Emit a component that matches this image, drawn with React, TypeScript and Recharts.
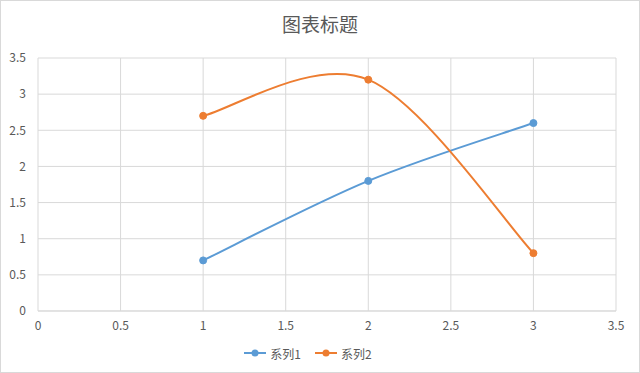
import { LineChart, Line, XAxis, YAxis, CartesianGrid, Legend } from 'recharts';

const xValues = [1, 2, 3];
const series1 = [0.7, 1.8, 2.6];
const series2 = [2.7, 3.2, 0.8];
const axisTicks = [0, 0.5, 1, 1.5, 2, 2.5, 3, 3.5];
const seriesNames = ['系列1', '系列2'];
const title = '图表标题';

const COLORS = ['#5b9bd5', '#ed7d31'];
const FONT = '"Noto Sans CJK SC", "Noto Sans", sans-serif';

const data1 = xValues.map((x, i) => ({ x, y: series1[i] }));
const data2 = xValues.map((x, i) => ({ x, y: series2[i] }));

// Excel-style smoothing: Catmull-Rom turned into cubic beziers
function excelCurve(context: any) {
  let pts: number[][] = [];
  return {
    areaStart() {},
    areaEnd() {},
    lineStart() {
      pts = [];
    },
    point(x: number, y: number) {
      pts.push([+x, +y]);
    },
    lineEnd() {
      if (!pts.length) return;
      context.moveTo(pts[0][0], pts[0][1]);
      for (let i = 0; i < pts.length - 1; i++) {
        const p0 = pts[i - 1] || pts[i];
        const p1 = pts[i];
        const p2 = pts[i + 1];
        const p3 = pts[i + 2] || p2;
        context.bezierCurveTo(
          p1[0] + (p2[0] - p0[0]) / 6,
          p1[1] + (p2[1] - p0[1]) / 6,
          p2[0] - (p3[0] - p1[0]) / 6,
          p2[1] - (p3[1] - p1[1]) / 6,
          p2[0],
          p2[1]
        );
      }
    },
  };
}

function LegendContent({ payload }: any) {
  return (
    <div
      style={{
        height: 24,
        display: 'flex',
        justifyContent: 'center',
        alignItems: 'center',
        gap: 14,
        fontFamily: FONT,
        fontSize: 12,
        color: '#595959',
      }}
    >
      {(payload || []).map((p: any) => (
        <div key={p.value} style={{ display: 'flex', alignItems: 'center' }}>
          <svg width={22} height={10} style={{ marginRight: 4 }}>
            <line x1={0} y1={5} x2={22} y2={5} stroke={p.color} strokeWidth={2} />
            <circle cx={11} cy={5} r={3.5} fill={p.color} />
          </svg>
          <span>{p.value}</span>
        </div>
      ))}
    </div>
  );
}

const tickStyle = { fill: '#595959', fontSize: 12, fontFamily: FONT };

export default function App() {
  return (
    <div style={{ position: 'absolute', left: 0, top: 0, width: 640, height: 373, background: '#fff' }}>
      <div
        style={{
          position: 'absolute',
          top: 10,
          left: 0,
          width: 640,
          textAlign: 'center',
          fontFamily: FONT,
          fontSize: 19,
          color: '#595959',
        }}
      >
        {title}
      </div>
      <LineChart
        width={640}
        height={373}
        margin={{ top: 58, right: 24, left: 0, bottom: 8 }}
      >
        <CartesianGrid stroke="#d9d9d9" strokeWidth={1} />
        <XAxis
          type="number"
          dataKey="x"
          domain={[0, 3.5]}
          ticks={axisTicks}
          allowDuplicatedCategory={false}
          axisLine={{ stroke: '#d9d9d9' }}
          tickLine={false}
          tick={tickStyle}
          tickMargin={4}
          height={30}
        />
        <YAxis
          type="number"
          domain={[0, 3.5]}
          ticks={axisTicks}
          axisLine={false}
          tickLine={false}
          tick={tickStyle}
          tickMargin={6}
          width={38}
        />
        <Legend verticalAlign="bottom" content={<LegendContent />} />
        <Line
          data={data1}
          dataKey="y"
          name={seriesNames[0]}
          type={excelCurve as any}
          stroke={COLORS[0]}
          strokeWidth={2}
          dot={{ r: 3.5, fill: COLORS[0], stroke: COLORS[0], strokeWidth: 1 }}
          isAnimationActive={false}
        />
        <Line
          data={data2}
          dataKey="y"
          name={seriesNames[1]}
          type={excelCurve as any}
          stroke={COLORS[1]}
          strokeWidth={2}
          dot={{ r: 3.5, fill: COLORS[1], stroke: COLORS[1], strokeWidth: 1 }}
          isAnimationActive={false}
        />
      </LineChart>
      <div
        style={{
          position: 'absolute',
          left: 0,
          top: 0,
          width: 640,
          height: 373,
          boxSizing: 'border-box',
          border: '1px solid #d9d9d9',
          pointerEvents: 'none',
        }}
      />
    </div>
  );
}
